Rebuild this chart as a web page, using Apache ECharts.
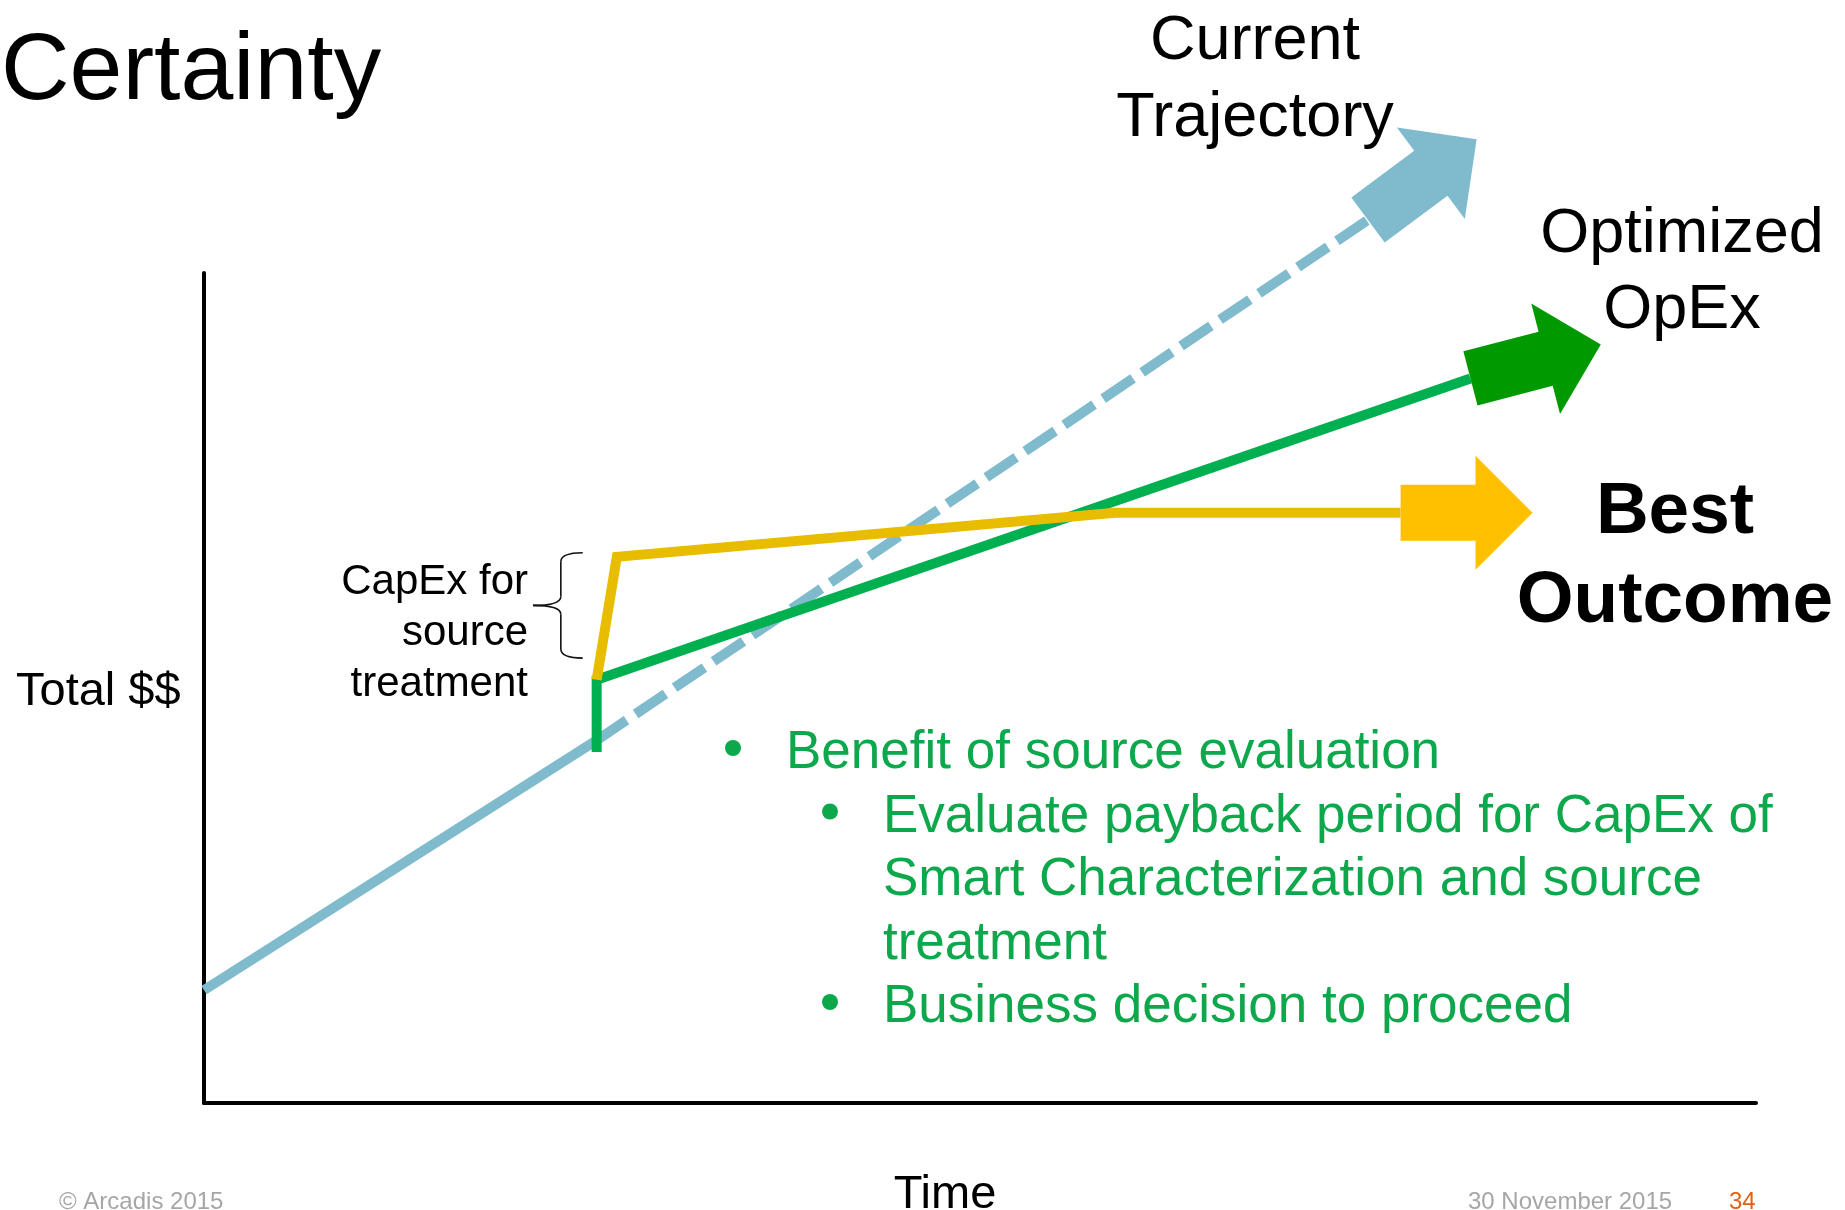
<!DOCTYPE html>
<html>
<head>
<meta charset="utf-8">
<title>Certainty</title>
<script src="https://cdn.jsdelivr.net/npm/echarts@6/dist/echarts.min.js"></script>
<style>
  html, body { margin: 0; padding: 0; background: #fff; }
  #chart { width: 1845px; height: 1210px; }
</style>
</head>
<body>
<div id="chart"></div>
<script>
// time / total $$ in relative units (0..100 along each axis)
const axisRange = [0, 100];

const currentSolid = [[0, 13.6], [25.3, 43.7]];
const currentDashed = [[25.3, 43.7], [75.0, 106.4]];
const currentArrow = [[75.0, 106.4, 82.0, 116.1]];

const opexLine = [[25.3, 42.3], [25.3, 51.0], [81.6, 87.3]];
const opexArrow = [[81.6, 87.3, 90.0, 91.4]];

const bestLine = [[25.3, 51.0], [26.6, 65.8], [58.7, 71.1], [77.1, 71.1]];
const bestArrow = [[77.1, 71.1, 85.6, 71.1]];

// right x, tip x, top y, bottom y
const capexBrace = [[24.4, 21.2, 66.3, 53.6]];

const titleText = 'Certainty';
const yAxisName = 'Total $$';
const xAxisName = 'Time';
const currentLabel = ['Current', 'Trajectory'];
const opexLabel = ['Optimized', 'OpEx'];
const bestLabel = ['Best', 'Outcome'];
const capexLabel = ['CapEx for', 'source', 'treatment'];
const bulletItems = [
  ['Benefit of source evaluation'],
  ['Evaluate payback period for CapEx of', 'Smart Characterization and source', 'treatment'],
  ['Business decision to proceed']
];
const bulletLevels = [0, 1, 1];
const footerLeft = '\u00a9 Arcadis 2015';
const footerDate = '30 November 2015';
const footerPage = '34';

const FONT = '"Liberation Sans", Arial, sans-serif';
const BLUE = '#7fbbcd';
const GREEN = '#00b050';
const GREEN_DARK = '#009a00';
const YELLOW = '#e8bd00';
const YELLOW_ARROW = '#ffc000';
const TEXT_GREEN = '#0ea84c';

const chart = echarts.init(document.getElementById('chart'), null, {renderer: 'canvas'});

function arrowItem(color) {
  return function (params, api) {
    const p0 = api.coord([api.value(0), api.value(1)]);
    const p1 = api.coord([api.value(2), api.value(3)]);
    const dx = p1[0] - p0[0];
    const dy = p1[1] - p0[1];
    const len = Math.sqrt(dx * dx + dy * dy);
    const ux = dx / len, uy = dy / len;
    const nx = -uy, ny = ux;
    const shaft = 28, head = 57, headLen = 57;
    const bx = p1[0] - ux * headLen, by = p1[1] - uy * headLen;
    const pts = [
      [p0[0] + nx * shaft, p0[1] + ny * shaft],
      [bx + nx * shaft, by + ny * shaft],
      [bx + nx * head, by + ny * head],
      [p1[0], p1[1]],
      [bx - nx * head, by - ny * head],
      [bx - nx * shaft, by - ny * shaft],
      [p0[0] - nx * shaft, p0[1] - ny * shaft]
    ];
    return {type: 'polygon', shape: {points: pts}, style: {fill: color}};
  };
}

function braceItem(params, api) {
  const a = api.coord([api.value(0), api.value(2)]);
  const b = api.coord([api.value(1), api.value(3)]);
  const xr = a[0], yt = a[1], xt = b[0], yb = b[1];
  const xm = xt + (xr - xt) * 0.56;
  const ym = (yt + yb) / 2;
  const r = 9;
  const st = {stroke: '#111', lineWidth: 1.6, fill: null};
  return {
    type: 'group',
    children: [
      {type: 'bezierCurve', shape: {x1: xr, y1: yt, cpx1: xm, cpy1: yt, x2: xm, y2: yt + r}, style: st},
      {type: 'line', shape: {x1: xm, y1: yt + r, x2: xm, y2: ym - r}, style: st},
      {type: 'bezierCurve', shape: {x1: xm, y1: ym - r, cpx1: xm, cpy1: ym, x2: xt, y2: ym}, style: st},
      {type: 'bezierCurve', shape: {x1: xt, y1: ym, cpx1: xm, cpy1: ym, x2: xm, y2: ym + r}, style: st},
      {type: 'line', shape: {x1: xm, y1: ym + r, x2: xm, y2: yb - r}, style: st},
      {type: 'bezierCurve', shape: {x1: xm, y1: yb - r, cpx1: xm, cpy1: yb, x2: xr, y2: yb}, style: st}
    ]
  };
}

// text helper: y given as the baseline
function txt(text, x, baseline, size, opts) {
  opts = opts || {};
  return {
    type: 'text',
    x: x,
    y: baseline - size * 0.25,
    z: 100,
    style: {
      text: text,
      font: (opts.weight || 'normal') + ' ' + size + 'px ' + FONT,
      fill: opts.color || '#000',
      align: opts.align || 'left',
      verticalAlign: 'middle'
    }
  };
}

const graphics = [];
graphics.push(txt(titleText, 1, 97, 95));
graphics.push(txt(yAxisName, 16, 704, 47));
graphics.push(txt(xAxisName, 945, 1207, 47, {align: 'center'}));
currentLabel.forEach((t, i) => graphics.push(txt(t, 1255, 57 + i * 77, 63, {align: 'center'})));
opexLabel.forEach((t, i) => graphics.push(txt(t, 1682, 250 + i * 76, 63, {align: 'center'})));
bestLabel.forEach((t, i) => graphics.push(txt(t, 1675, 531 + i * 89, 73, {align: 'center', weight: 'bold'})));
capexLabel.forEach((t, i) => graphics.push(txt(t, 528, 593 + i * 51, 42, {align: 'right'})));

let row = 0;
bulletItems.forEach((lines, k) => {
  const lvl = bulletLevels[k];
  const bulletX = lvl === 0 ? 733 : 830;
  const textX = lvl === 0 ? 786 : 883;
  lines.forEach((t, j) => {
    const base = 767 + row * 63.5;
    if (j === 0) {
      graphics.push({
        type: 'circle',
        z: 100,
        shape: {cx: bulletX, cy: base - 19, r: 8},
        style: {fill: TEXT_GREEN}
      });
    }
    graphics.push(txt(t, textX, base, 53, {color: TEXT_GREEN}));
    row++;
  });
});

graphics.push(txt(footerLeft, 59, 1208, 24, {color: '#a6a6a6'}));
graphics.push(txt(footerDate, 1468, 1208, 24, {color: '#a6a6a6'}));
graphics.push(txt(footerPage, 1729, 1208, 24, {color: '#e4610f'}));

const lineBase = {
  type: 'line',
  showSymbol: false,
  symbol: 'none',
  clip: false,
  silent: true
};

const option = {
  animation: false,
  backgroundColor: '#fff',
  grid: {left: 204, right: 89, top: 273, bottom: 107},
  xAxis: {
    type: 'value',
    min: axisRange[0],
    max: axisRange[1],
    axisLine: {show: true, onZero: false, lineStyle: {color: '#000', width: 4}},
    axisTick: {show: false},
    axisLabel: {show: false},
    splitLine: {show: false}
  },
  yAxis: {
    type: 'value',
    min: axisRange[0],
    max: axisRange[1],
    axisLine: {show: true, onZero: false, lineStyle: {color: '#000', width: 4}},
    axisTick: {show: false},
    axisLabel: {show: false},
    splitLine: {show: false}
  },
  graphic: graphics,
  series: [
    Object.assign({}, lineBase, {
      name: 'current',
      data: currentSolid,
      z: 2,
      lineStyle: {color: BLUE, width: 10, cap: 'butt'}
    }),
    Object.assign({}, lineBase, {
      name: 'current dashed',
      data: currentDashed,
      z: 2,
      lineStyle: {color: BLUE, width: 10, type: [36, 11], cap: 'butt'}
    }),
    {
      type: 'custom',
      name: 'current arrow',
      data: currentArrow,
      clip: false,
      z: 3,
      renderItem: arrowItem(BLUE)
    },
    Object.assign({}, lineBase, {
      name: 'opex',
      data: opexLine,
      z: 4,
      lineStyle: {color: GREEN, width: 10, cap: 'butt', join: 'miter'}
    }),
    {
      type: 'custom',
      name: 'opex arrow',
      data: opexArrow,
      clip: false,
      z: 5,
      renderItem: arrowItem(GREEN_DARK)
    },
    Object.assign({}, lineBase, {
      name: 'best',
      data: bestLine,
      z: 6,
      lineStyle: {color: YELLOW, width: 10, cap: 'butt', join: 'miter'}
    }),
    {
      type: 'custom',
      name: 'best arrow',
      data: bestArrow,
      clip: false,
      z: 7,
      renderItem: arrowItem(YELLOW_ARROW)
    },
    {
      type: 'custom',
      name: 'capex brace',
      data: capexBrace,
      clip: false,
      z: 8,
      renderItem: braceItem
    }
  ]
};

chart.setOption(option);
</script>
</body>
</html>
